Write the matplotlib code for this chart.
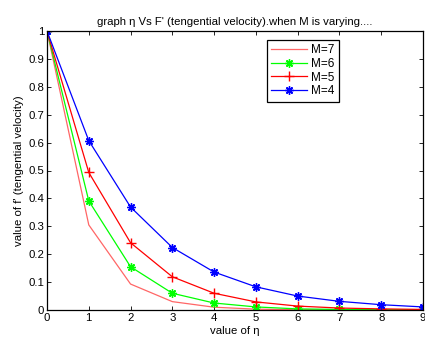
import numpy as np
from matplotlib import pyplot as plt

plt.rcParams['font.family'] = ['Liberation Sans', 'DejaVu Sans']
plt.rcParams['font.size'] = 8.2

eta = [0, 1, 2, 3, 4, 5, 6, 7, 8, 9]

f_m7 = [1.0, 0.305, 0.093, 0.030, 0.010, 0.003, 0.001, 0.0005, 0.0002, 0.0001]
f_m6 = [1.0, 0.391, 0.155, 0.060, 0.025, 0.011, 0.004, 0.002, 0.001, 0.0005]
f_m5 = [1.0, 0.493, 0.241, 0.119, 0.060, 0.029, 0.014, 0.007, 0.004, 0.002]
f_m4 = [1.0, 0.607, 0.369, 0.224, 0.136, 0.083, 0.050, 0.031, 0.019, 0.011]

x_ticks = [0, 1, 2, 3, 4, 5, 6, 7, 8, 9]
y_ticks = [0, 0.1, 0.2, 0.3, 0.4, 0.5, 0.6, 0.7, 0.8, 0.9, 1]
y_labels = ['0', '0.1', '0.2', '0.3', '0.4', '0.5', '0.6', '0.7', '0.8', '0.9', '1']

fig = plt.figure(figsize=(4.25, 3.38), dpi=100)
ax = fig.add_axes([47 / 425, 1 - 310 / 338, 376 / 425, 279 / 338])

lw = 0.9
ast = (8, 2, 0)  # matlab style '*'
ax.plot(eta, f_m7, color='#ff6666', lw=lw, label='M=7')
ax.plot(eta, f_m6, color='#00ff00', lw=lw, marker=ast, ms=6, mew=1.0, label='M=6')
ax.plot(eta, f_m5, color='#ff0000', lw=lw, marker='+', ms=7, mew=1.0, label='M=5')
ax.plot(eta, f_m4, color='#0000ff', lw=lw, marker=ast, ms=6, mew=1.0, label='M=4')

ax.set_xlim(0, 9)
ax.set_ylim(0, 1)
ax.set_xticks(x_ticks)
ax.set_yticks(y_ticks)
ax.set_yticklabels(y_labels)
ax.tick_params(direction='in', top=True, right=True, length=3, width=0.6, pad=2)
for s in ax.spines.values():
    s.set_linewidth(0.9)

ax.set_title("graph \u03b7 Vs F' (tengential velocity).when M is varying....", fontsize=8.2, pad=4)
ax.set_xlabel('value of \u03b7', fontsize=8.2, labelpad=2)
ax.set_ylabel("value of f' (tengential velocity)", fontsize=8.2, labelpad=3)

leg = ax.legend(loc='upper left', bbox_to_anchor=(0.585, 0.968), borderaxespad=0,
                fancybox=False, edgecolor='black', framealpha=1, handlelength=3.0,
                fontsize=8.5, borderpad=0.35, labelspacing=0.15, handletextpad=0.4)
leg.get_frame().set_linewidth(0.9)

fig.savefig('out.png', dpi=100)
